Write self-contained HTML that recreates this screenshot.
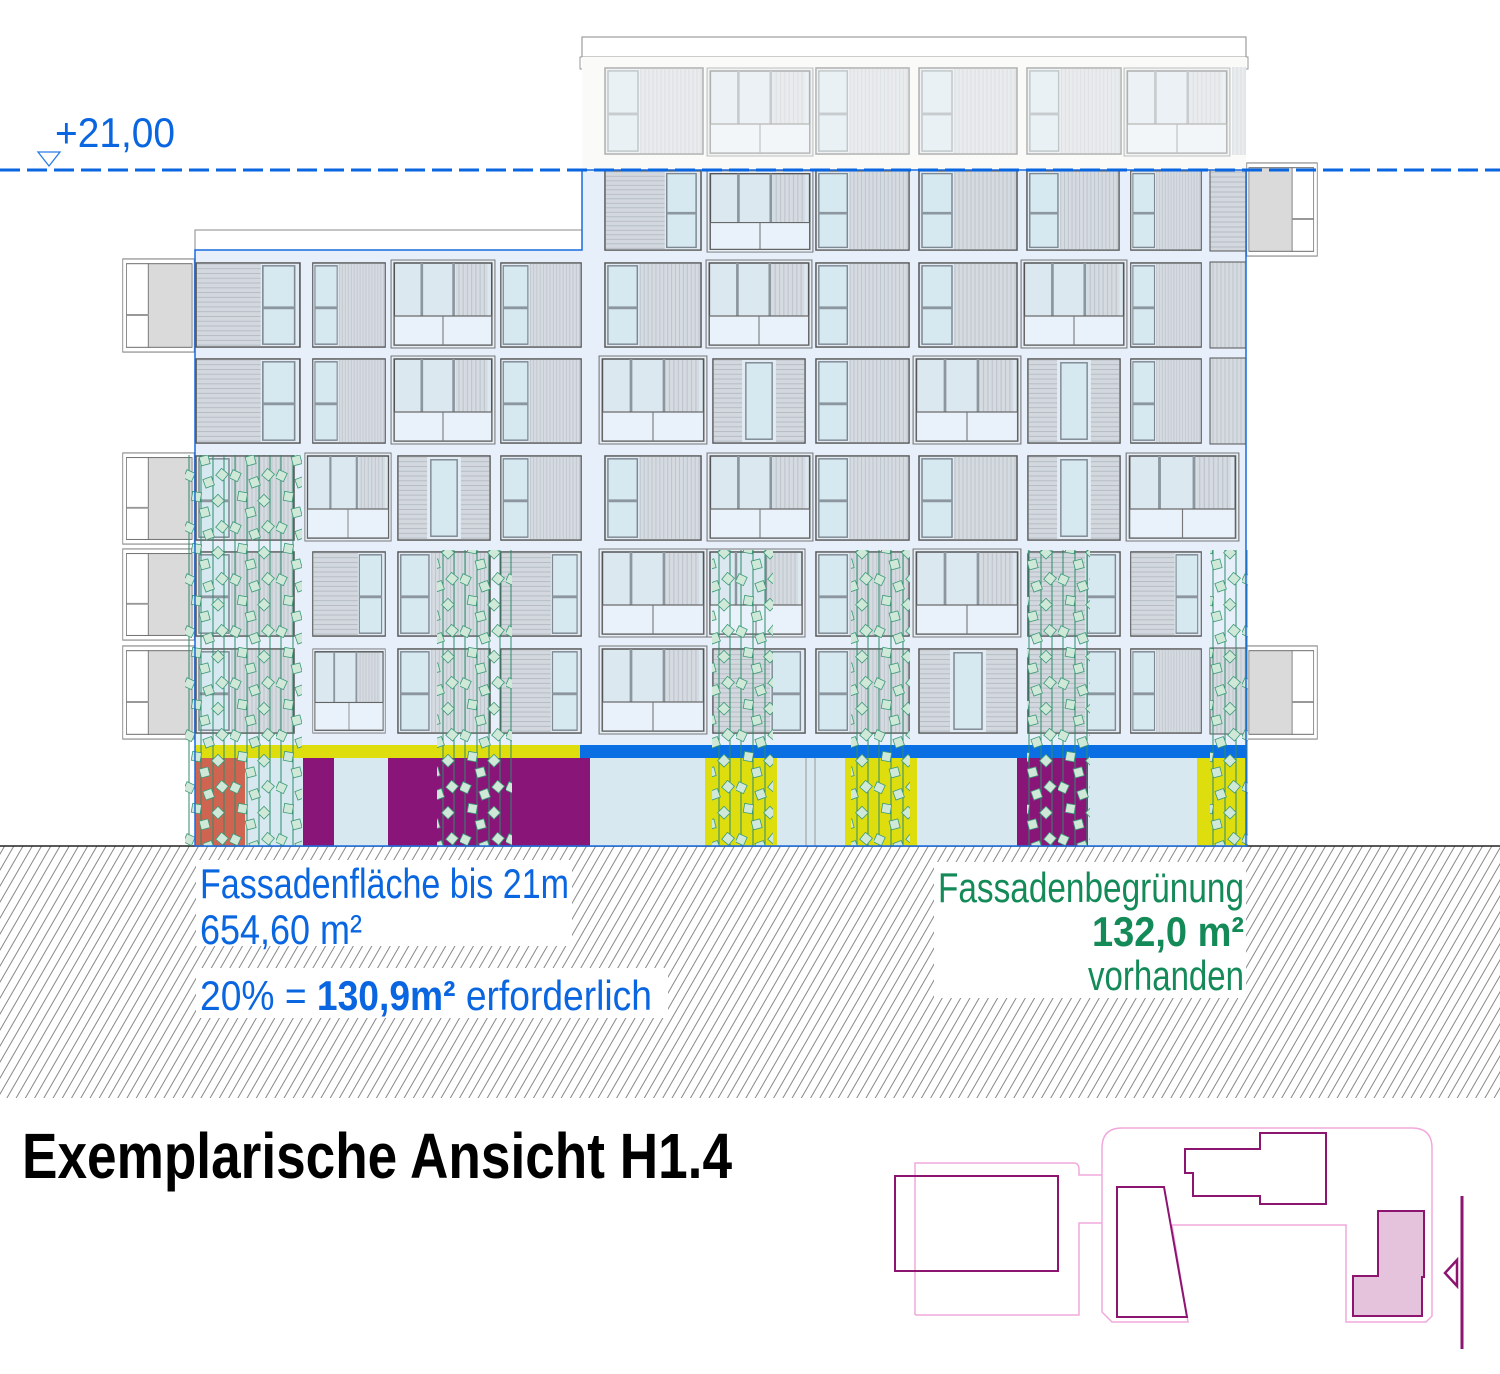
<!DOCTYPE html>
<html><head><meta charset="utf-8"><style>
html,body{margin:0;padding:0;background:#fff}
svg{display:block}
.cn{font-family:"Liberation Sans Narrow","Liberation Sans",sans-serif}
</style></head><body>
<svg width="1500" height="1374" viewBox="0 0 1500 1374" xmlns="http://www.w3.org/2000/svg">
<defs>
<pattern id="gh" width="8" height="10" patternUnits="userSpaceOnUse" patternTransform="rotate(30)">
<line x1="3" y1="0" x2="3" y2="10" stroke="#888" stroke-width="1"/></pattern>
<pattern id="hv" width="4" height="4" patternUnits="userSpaceOnUse"><rect width="4" height="4" fill="#d5dbe1"/><line x1="1" y1="0" x2="1" y2="4" stroke="#bcc4cc" stroke-width="1"/></pattern>
<pattern id="hh" width="4" height="5" patternUnits="userSpaceOnUse"><rect width="4" height="5" fill="#d2d8de"/><line x1="0" y1="2" x2="4" y2="2" stroke="#b4bcc4" stroke-width="1"/></pattern>
<pattern id="leaf" width="46" height="52" patternUnits="userSpaceOnUse">
<g stroke="#2e8b6a" stroke-width="1">
<line x1="5" y1="0" x2="5" y2="52"/><line x1="17" y1="0" x2="17" y2="52"/><line x1="29" y1="0" x2="29" y2="52"/><line x1="40" y1="0" x2="40" y2="52"/></g>
<g fill="#cfe8d8" stroke="#3a9a78" stroke-width="0.8">
<rect x="1" y="3" width="9" height="9" transform="rotate(25 5 7)"/>
<rect x="20" y="10" width="9" height="9" transform="rotate(-20 24 14)"/>
<rect x="34" y="2" width="9" height="9" transform="rotate(40 38 6)"/>
<rect x="8" y="24" width="9" height="9" transform="rotate(10 12 28)"/>
<rect x="30" y="28" width="9" height="9" transform="rotate(45 34 32)"/>
<rect x="16" y="40" width="9" height="9" transform="rotate(-15 20 44)"/>
</g></pattern>
<symbol id="A" viewBox="0 0 100 90" preserveAspectRatio="none">
<rect x="1" y="1" width="98" height="88" fill="#e2ebf4" stroke="#555" stroke-width="1.5"/>
<rect x="36" y="2" width="62" height="86" fill="url(#hv)"/>
<rect x="4" y="4" width="30" height="82" fill="#d6e8f0" stroke="#7d8892" stroke-width="1.5"/>
<line x1="4" y1="48" x2="34" y2="48" stroke="#8c969f" stroke-width="3"/>
</symbol>
<symbol id="C" viewBox="0 0 100 90" preserveAspectRatio="none">
<rect x="1" y="1" width="98" height="88" fill="#e2ebf4" stroke="#555" stroke-width="1.5"/>
<rect x="2" y="2" width="60" height="86" fill="url(#hh)"/>
<rect x="64" y="4" width="30" height="82" fill="#d6e8f0" stroke="#7d8892" stroke-width="1.5"/>
<line x1="64" y1="48" x2="94" y2="48" stroke="#8c969f" stroke-width="3"/>
</symbol>
<symbol id="P" viewBox="0 0 100 90" preserveAspectRatio="none">
<rect x="1" y="1" width="98" height="88" fill="#e2ebf4" stroke="#555" stroke-width="1.5"/>
<rect x="2" y="2" width="30" height="86" fill="url(#hh)"/>
<rect x="68" y="2" width="30" height="86" fill="url(#hh)"/>
<rect x="36" y="5" width="28" height="80" fill="#d6e8f0" stroke="#7d8892" stroke-width="1.5"/>
</symbol>
<symbol id="B" viewBox="0 0 100 90" preserveAspectRatio="none">
<rect x="1" y="1" width="98" height="88" fill="#e6eef7" stroke="#777" stroke-width="1"/>
<rect x="4" y="4" width="92" height="82" fill="#dbe8f0" stroke="#555" stroke-width="1.5"/>
<rect x="62" y="5" width="30" height="52" fill="url(#hv)"/>
<line x1="30" y1="4" x2="30" y2="57" stroke="#8c969f" stroke-width="2.5"/>
<line x1="60" y1="4" x2="60" y2="57" stroke="#8c969f" stroke-width="2.5"/>
<rect x="4" y="57" width="92" height="29" fill="#e9f2fb" stroke="#666" stroke-width="1.2"/>
<line x1="50" y1="57" x2="50" y2="86" stroke="#777" stroke-width="1"/>
</symbol>
<symbol id="S" viewBox="0 0 100 100" preserveAspectRatio="none">
<rect x="1" y="1" width="98" height="98" fill="#fff" stroke="#888" stroke-width="1.2"/>
<rect x="6" y="6" width="30" height="88" fill="#fff" stroke="#666" stroke-width="1"/>
<rect x="36" y="6" width="60" height="88" fill="#dadada" stroke="#666" stroke-width="1"/>
<line x1="6" y1="60" x2="36" y2="60" stroke="#999" stroke-width="2"/>
</symbol>
</defs>

<rect x="0" y="846" width="1500" height="252" fill="url(#gh)"/>
<line x1="0" y1="846" x2="1500" y2="846" stroke="#222" stroke-width="1.5"/>

<rect x="582" y="37" width="664" height="20" fill="#fff" stroke="#888" stroke-width="1"/>
<rect x="580" y="57" width="668" height="12" fill="#fff" stroke="#999" stroke-width="1"/>
<rect x="195" y="230" width="387" height="22" fill="#fff" stroke="#888" stroke-width="1"/>

<rect x="582" y="57" width="664" height="113" fill="#fafaf8"/>
<path d="M582,170 H1246 V846 H195 V250 H582 Z" fill="#e7f0fa"/>

<use href="#S" x="122" y="258" width="73" height="95"/>
<use href="#S" x="122" y="452" width="73" height="93"/>
<use href="#S" x="122" y="548" width="73" height="93"/>
<use href="#S" x="122" y="645" width="73" height="95"/>
<use href="#S" x="1246" y="162" width="72" height="95" transform="translate(2564,0) scale(-1,1)"/>
<use href="#S" x="1246" y="645" width="72" height="95" transform="translate(2564,0) scale(-1,1)"/>

<g opacity="0.45">
<use href="#A" x="604" y="67" width="100" height="88"/>
<use href="#B" x="706" y="67" width="108" height="90"/>
<use href="#A" x="815" y="67" width="95" height="88"/>
<use href="#A" x="918" y="67" width="100" height="88"/>
<use href="#A" x="1026" y="67" width="96" height="88"/>
<use href="#B" x="1123" y="67" width="108" height="90"/>
<rect x="1232" y="67" width="14" height="88" fill="url(#hv)"/>
</g>
<use href="#C" x="604" y="170" width="98" height="81"/>
<use href="#B" x="706" y="170" width="108" height="83"/>
<use href="#A" x="815" y="170" width="95" height="81"/>
<use href="#A" x="918" y="170" width="100" height="81"/>
<use href="#A" x="1026" y="170" width="94" height="81"/>
<use href="#A" x="1130" y="170" width="72" height="81"/>
<rect x="1210" y="170" width="36" height="81" fill="url(#hh)" stroke="#555"/>
<use href="#C" x="195" y="262" width="106" height="86"/>
<use href="#A" x="312" y="262" width="74" height="86"/>
<use href="#B" x="390" y="259" width="106" height="90"/>
<use href="#A" x="500" y="262" width="82" height="86"/>
<use href="#A" x="604" y="262" width="98" height="86"/>
<use href="#B" x="705" y="259" width="108" height="90"/>
<use href="#A" x="815" y="262" width="95" height="86"/>
<use href="#A" x="918" y="262" width="100" height="86"/>
<use href="#B" x="1020" y="259" width="108" height="90"/>
<use href="#A" x="1130" y="262" width="72" height="86"/>
<rect x="1210" y="262" width="36" height="86" fill="url(#hv)" stroke="#555"/>
<use href="#C" x="195" y="358" width="106" height="86"/>
<use href="#A" x="312" y="358" width="74" height="86"/>
<use href="#B" x="390" y="355" width="106" height="90"/>
<use href="#A" x="500" y="358" width="82" height="86"/>
<use href="#B" x="598" y="355" width="110" height="90"/>
<use href="#P" x="712" y="358" width="94" height="86"/>
<use href="#A" x="815" y="358" width="95" height="86"/>
<use href="#B" x="912" y="355" width="110" height="90"/>
<use href="#P" x="1027" y="358" width="94" height="86"/>
<use href="#A" x="1130" y="358" width="72" height="86"/>
<rect x="1210" y="358" width="36" height="86" fill="url(#hv)" stroke="#555"/>
<use href="#A" x="195" y="455" width="100" height="86"/>
<use href="#B" x="304" y="452" width="88" height="90"/>
<use href="#P" x="397" y="455" width="94" height="86"/>
<use href="#A" x="500" y="455" width="82" height="86"/>
<use href="#A" x="604" y="455" width="98" height="86"/>
<use href="#B" x="706" y="452" width="108" height="90"/>
<use href="#A" x="815" y="455" width="95" height="86"/>
<use href="#A" x="918" y="455" width="100" height="86"/>
<use href="#P" x="1027" y="455" width="94" height="86"/>
<use href="#B" x="1125" y="452" width="115" height="90"/>
<use href="#A" x="195" y="551" width="100" height="86"/>
<use href="#C" x="312" y="551" width="74" height="86"/>
<use href="#A" x="397" y="551" width="94" height="86"/>
<use href="#C" x="500" y="551" width="82" height="86"/>
<use href="#B" x="598" y="548" width="110" height="90"/>
<use href="#B" x="706" y="548" width="100" height="90"/>
<use href="#A" x="815" y="551" width="95" height="86"/>
<use href="#B" x="912" y="548" width="110" height="90"/>
<use href="#C" x="1027" y="551" width="94" height="86"/>
<use href="#C" x="1130" y="551" width="72" height="86"/>
<use href="#A" x="195" y="648" width="100" height="86"/>
<use href="#B" x="312" y="648" width="74" height="86"/>
<use href="#A" x="397" y="648" width="94" height="86"/>
<use href="#C" x="500" y="648" width="82" height="86"/>
<use href="#B" x="598" y="645" width="110" height="90"/>
<use href="#C" x="712" y="648" width="94" height="86"/>
<use href="#A" x="815" y="648" width="95" height="86"/>
<use href="#P" x="918" y="648" width="100" height="86"/>
<use href="#C" x="1027" y="648" width="94" height="86"/>
<use href="#A" x="1130" y="648" width="72" height="86"/>
<rect x="1210" y="648" width="36" height="86" fill="url(#hv)" stroke="#555"/>

<rect x="195" y="745" width="385" height="13" fill="#dede0f"/>
<rect x="580" y="745" width="666" height="13" fill="#0a6fe3"/>
<rect x="195" y="758" width="1051" height="88" fill="#d7e8f0"/>
<rect x="195" y="758" width="50" height="88" fill="#cf6451"/>
<rect x="303" y="758" width="31" height="88" fill="#8a1579"/>
<rect x="388" y="758" width="202" height="88" fill="#8a1579"/>
<rect x="705" y="758" width="72" height="88" fill="#dede0f"/>
<rect x="845" y="758" width="72" height="88" fill="#dede0f"/>
<rect x="1017" y="758" width="71" height="88" fill="#8a1579"/>
<rect x="1197" y="758" width="49" height="88" fill="#dede0f"/>
<g stroke="#999" stroke-width="1"><line x1="806" y1="758" x2="806" y2="846"/><line x1="815" y1="758" x2="815" y2="846"/></g>

<rect x="185" y="455" width="117" height="391" fill="url(#leaf)"/>
<rect x="437" y="550" width="75" height="296" fill="url(#leaf)"/>
<rect x="712" y="550" width="61" height="296" fill="url(#leaf)"/>
<rect x="851" y="550" width="59" height="296" fill="url(#leaf)"/>
<rect x="1027" y="550" width="63" height="296" fill="url(#leaf)"/>
<rect x="1210" y="550" width="38" height="296" fill="url(#leaf)"/>

<path d="M582,170 H1246 V846 H195 V250 H582 Z" fill="none" stroke="#1a6be0" stroke-width="1.5"/>

<line x1="0" y1="170" x2="1500" y2="170" stroke="#0a66e0" stroke-width="3" stroke-dasharray="20,7"/>
<path d="M38,152 L60,152 L49,166 Z" fill="none" stroke="#2a7be6" stroke-width="1.3"/>
<text x="55" y="147" class="cn" font-size="42" fill="#0a66e0" textLength="120" lengthAdjust="spacingAndGlyphs">+21,00</text>

<rect x="196" y="860" width="376" height="86" fill="#fff"/>
<rect x="196" y="968" width="472" height="50" fill="#fff"/>
<rect x="934" y="862" width="312" height="136" fill="#fff"/>
<text x="200" y="898" class="cn" font-size="42" fill="#0a66e0" textLength="369" lengthAdjust="spacingAndGlyphs">Fassadenfläche bis 21m</text>
<text x="200" y="944" class="cn" font-size="42" fill="#0a66e0" textLength="162" lengthAdjust="spacingAndGlyphs">654,60 m²</text>
<text x="200" y="1010" class="cn" font-size="42" fill="#0a66e0" textLength="452" lengthAdjust="spacingAndGlyphs">20% = <tspan font-weight="bold">130,9m²</tspan> erforderlich</text>
<text x="1244" y="902" class="cn" font-size="42" fill="#148a58" text-anchor="end" textLength="306" lengthAdjust="spacingAndGlyphs">Fassadenbegrünung</text>
<text x="1244" y="946" class="cn" font-size="42" font-weight="bold" fill="#148a58" text-anchor="end" textLength="152" lengthAdjust="spacingAndGlyphs">132,0 m²</text>
<text x="1244" y="990" class="cn" font-size="42" fill="#148a58" text-anchor="end" textLength="156" lengthAdjust="spacingAndGlyphs">vorhanden</text>

<text x="22" y="1178" class="cn" font-size="64" font-weight="bold" fill="#000" textLength="710" lengthAdjust="spacingAndGlyphs">Exemplarische Ansicht H1.4</text>

<g fill="none" stroke="#f2a8dc" stroke-width="1.5">
<path d="M915,1315 V1163 H1074 Q1079,1163 1079,1170 V1175 H1102 M1102,1223 H1079 V1315 H915"/>
<path d="M1102,1148 Q1102,1128 1122,1128 H1412 Q1432,1128 1432,1148 V1316 L1426,1322 H1346 V1225 H1172 L1188,1322 H1112 L1102,1312 Z"/>
</g>
<g fill="none" stroke="#8c1570" stroke-width="2">
<rect x="895" y="1176" width="163" height="95"/>
<path d="M1117,1187 H1164 L1187,1317 H1117 Z"/>
<path d="M1185,1149 H1260 V1133 H1326 V1204 H1260 V1196 H1193 V1173 H1185 Z"/>
</g>
<path d="M1378,1211 H1424 V1277 H1422 V1316 H1353 V1276 H1378 Z" fill="#e6c3dc" stroke="#8c1570" stroke-width="2"/>
<line x1="1462" y1="1196" x2="1462" y2="1349" stroke="#8c1570" stroke-width="3"/>
<path d="M1457,1260 L1445,1273 L1457,1286 Z" fill="none" stroke="#8c1570" stroke-width="2.5"/>
</svg>
</body></html>
